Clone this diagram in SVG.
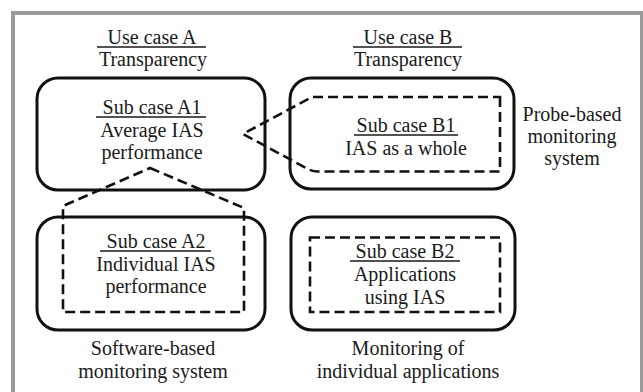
<svg xmlns="http://www.w3.org/2000/svg" width="643" height="392" viewBox="0 0 643 392">
<style>
text{font-family:"Liberation Serif","Times New Roman",serif;font-size:20px;fill:#1a1a1a;text-anchor:middle}
.box{fill:none;stroke:#111;stroke-width:3}
.dash{fill:none;stroke:#111;stroke-width:2.6;stroke-dasharray:10 5;stroke-linejoin:miter}
.ul{stroke:#1a1a1a;stroke-width:1.3}
</style>
<rect x="0" y="0" width="643" height="392" fill="#fff"/>
<rect id="frame" x="13" y="13" width="629" height="400" fill="none" stroke="#9a9a9a" stroke-width="4"/>
<g id="header-a">
<text x="152" y="44">Use case A</text>
<line class="ul" x1="97" y1="47" x2="206" y2="47"/>
<text x="153" y="66">Transparency</text>
</g>
<g id="header-b">
<text x="408" y="44">Use case B</text>
<line class="ul" x1="353" y1="47" x2="462" y2="47"/>
<text x="408" y="66">Transparency</text>
</g>
<g id="A1">
<rect class="box" x="37" y="78" width="228" height="112" rx="21"/>
<text x="152" y="114">Sub case A1</text>
<line class="ul" x1="96" y1="117" x2="206" y2="117"/>
<text x="152" y="137">Average IAS</text>
<text x="152" y="159">performance</text>
</g>
<g id="B1">
<rect class="box" x="290" y="78" width="224" height="111" rx="21"/>
<text x="406" y="132">Sub case B1</text>
<line class="ul" x1="354" y1="135" x2="458" y2="135"/>
<text x="406" y="155">IAS as a whole</text>
</g>
<g id="A2">
<rect class="box" x="37" y="217" width="228" height="113" rx="21"/>
<text x="156" y="248">Sub case A2</text>
<line class="ul" x1="100" y1="251" x2="211" y2="251"/>
<text x="156" y="271">Individual IAS</text>
<text x="156" y="293">performance</text>
</g>
<g id="B2">
<rect class="box" x="291" y="217" width="224" height="113" rx="21"/>
<text x="405" y="258">Sub case B2</text>
<line class="ul" x1="350" y1="261" x2="460" y2="261"/>
<text x="405" y="281">Applications</text>
<text x="405" y="304">using IAS</text>
</g>
<g id="probe-label">
<text x="572" y="121">Probe-based</text>
<text x="572" y="143">monitoring</text>
<text x="572" y="165">system</text>
</g>
<g id="software-label">
<text x="153" y="355">Software-based</text>
<text x="153" y="378">monitoring system</text>
</g>
<g id="apps-label">
<text x="408" y="355">Monitoring of</text>
<text x="408" y="378">individual applications</text>
</g>
<g id="connectors">
<path class="dash" d="M500,97 L500,171.5 L318,171.5 Q312,171.5 307,168.5 L243,134 L312,97 Z"/>
<path class="dash" d="M150,168 L244,208 L244,312 L63,312 L63,206 Z"/>
<rect class="dash" x="310" y="237.5" width="190" height="74.5"/>
</g>
</svg>
